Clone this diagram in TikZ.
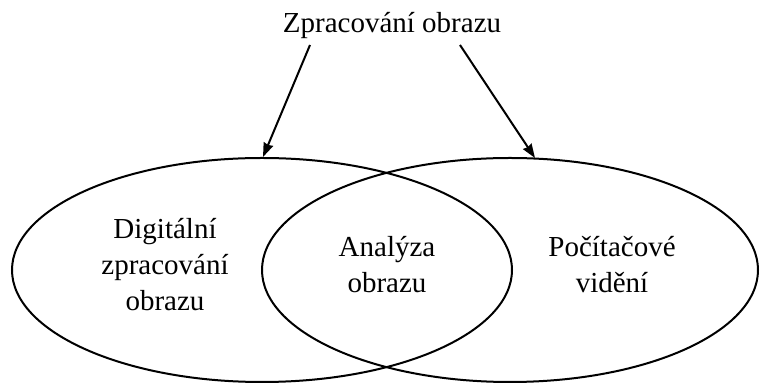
\documentclass[tikz,border=0pt]{standalone}
\usepackage{fontspec}
\setmainfont{Liberation Serif}
\usetikzlibrary{arrows.meta}
\tikzset{
    caption/.style={align=center,font=\fontsize{29}{36}\selectfont},
    ring/.style={line width=2pt},
    pointer/.style={line width=2pt,-{Stealth[length=14pt,width=10pt,inset=1pt,fill=black]}},
}
\begin{document}
\begin{tikzpicture}[x=1pt,y=1pt]
		\useasboundingbox (0,0) rectangle (763,385);
		\draw[ring] (262,115) ellipse (250 and 112);
		\draw[ring] (510,115) ellipse (248 and 112);
		\node[caption,anchor=base] (title) at (392,352) {Zpracování obrazu};
		\coordinate (lstart) at (310,340);
		\coordinate (lend) at (263,228);
		\coordinate (rstart) at (460,340);
		\coordinate (rend) at (535,227);
		\draw[pointer] (lstart) -- (lend);
		\draw[pointer] (rstart) -- (rend);
		\node[caption] (digital) at (165,120) {Digitální\\zpracování\\obrazu};
		\node[caption] (analysis) at (387,120) {Analýza\\obrazu};
		\node[caption] (vision) at (612,120) {Počítačové\\vidění};
		\end{tikzpicture}
\end{document}
